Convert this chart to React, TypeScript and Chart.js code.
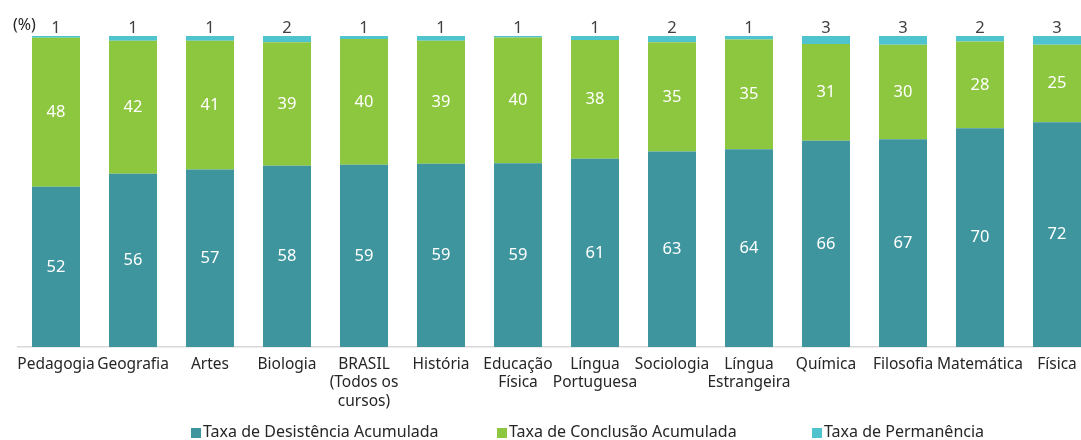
import React, { useEffect, useRef } from "react";
import { Chart, registerables } from "chart.js";

Chart.register(...registerables);

const categories: string[][] = [
  ["Pedagogia"],
  ["Geografia"],
  ["Artes"],
  ["Biologia"],
  ["BRASIL", "(Todos os", "cursos)"],
  ["História"],
  ["Educação", "Física"],
  ["Língua", "Portuguesa"],
  ["Sociologia"],
  ["Língua", "Estrangeira"],
  ["Química"],
  ["Filosofia"],
  ["Matemática"],
  ["Física"],
];

// bar heights (estimated unrounded shares, %)
const desistencia = [51.5, 55.7, 57.1, 58.3, 58.6, 58.9, 59.1, 60.5, 62.9, 63.6, 66.3, 66.8, 70.3, 72.3];
const conclusao = [47.95, 42.8, 41.4, 39.7, 40.4, 39.6, 40.4, 38.2, 35.1, 35.3, 31.1, 30.4, 27.9, 24.9];
const permanencia = [0.55, 1.5, 1.5, 2.0, 1.0, 1.5, 0.5, 1.3, 2.0, 1.1, 2.6, 2.8, 1.8, 2.8];

// value labels as printed
const desistenciaLabels = [52, 56, 57, 58, 59, 59, 59, 61, 63, 64, 66, 67, 70, 72];
const conclusaoLabels = [48, 42, 41, 39, 40, 39, 40, 38, 35, 35, 31, 30, 28, 25];
const permanenciaLabels = [1, 1, 1, 2, 1, 1, 1, 1, 2, 1, 3, 3, 2, 3];
const valueLabels = [desistenciaLabels, conclusaoLabels, permanenciaLabels];

const seriesNames = [
  "Taxa de Desistência Acumulada",
  "Taxa de Conclusão Acumulada",
  "Taxa de Permanência",
];
const colors = ["#3e959e", "#8dc63f", "#4fc4cf"];

const FONT = "'Noto Sans'";
const W = 1100;
const H = 440;

const labelsPlugin = {
  id: "valueLabels",
  afterDatasetsDraw(chart: any) {
    const ctx = chart.ctx;
    ctx.save();
    ctx.textAlign = "center";
    ctx.textBaseline = "middle";
    chart.data.datasets.forEach((ds: any, di: number) => {
      const meta = chart.getDatasetMeta(di);
      meta.data.forEach((el: any, i: number) => {
        const v = valueLabels[di][i];
        ctx.font = `16.5px ${FONT}`;
        if (di < 2) {
          ctx.fillStyle = "#ffffff";
          ctx.fillText(String(v), el.x, (el.y + el.base) / 2);
        } else {
          ctx.fillStyle = "#404040";
          ctx.fillText(String(v), el.x, el.y - 8);
        }
      });
    });
    ctx.restore();
  },
  afterDraw(chart: any) {
    const ctx = chart.ctx;
    ctx.save();
    ctx.font = `16px ${FONT}`;
    ctx.fillStyle = "#262626";
    ctx.textBaseline = "middle";
    ctx.textAlign = "left";
    ctx.fillText("(%)", 13, 25);
    const xs = [191, 497, 812];
    xs.forEach((x, i) => {
      ctx.fillStyle = colors[i];
      ctx.fillRect(x, 428, 10, 10);
      ctx.fillStyle = "#262626";
      ctx.fillText(seriesNames[i], x + 12, 432);
    });
    ctx.restore();
  },
};

export default function App() {
  const ref = useRef<HTMLCanvasElement>(null);
  useEffect(() => {
    if (!ref.current) return;
    const chart = new Chart(ref.current, {
      type: "bar",
      data: {
        labels: categories,
        datasets: [desistencia, conclusao, permanencia].map((d, i) => ({
          label: seriesNames[i],
          data: d,
          backgroundColor: colors[i],
          borderWidth: 0,
          categoryPercentage: 1,
          barPercentage: 48 / 77,
          clip: false as any,
        })),
      },
      options: {
        responsive: false,
        maintainAspectRatio: false,
        animation: false,
        devicePixelRatio: 1,
        layout: { padding: { left: 17.5, right: 4.5, top: 36, bottom: 0 } },
        plugins: {
          legend: { display: false },
          tooltip: { enabled: false },
        },
        scales: {
          x: {
            stacked: true,
            offset: true,
            grid: { display: false },
            border: { display: true, color: "#d9d9d9", width: 1.5 },
            ticks: {
              autoSkip: false,
              maxRotation: 0,
              minRotation: 0,
              padding: 0,
              color: "#262626",
              font: { family: "Noto Sans", size: 15.5, lineHeight: 1.2 },
            },
            afterFit: (scale: any) => {
              scale.height = 93;
            },
          },
          y: {
            stacked: true,
            display: false,
            min: 0,
            max: 100,
          },
        },
      },
      plugins: [labelsPlugin],
    });
    return () => chart.destroy();
  }, []);
  return (
    <div
      style={{
        position: "fixed",
        left: 0,
        top: 0,
        width: 1081,
        height: 440,
        overflow: "hidden",
        background: "#fff",
      }}
    >
      <canvas ref={ref} width={W} height={H} style={{ width: W, height: H, display: "block" }} />
    </div>
  );
}
